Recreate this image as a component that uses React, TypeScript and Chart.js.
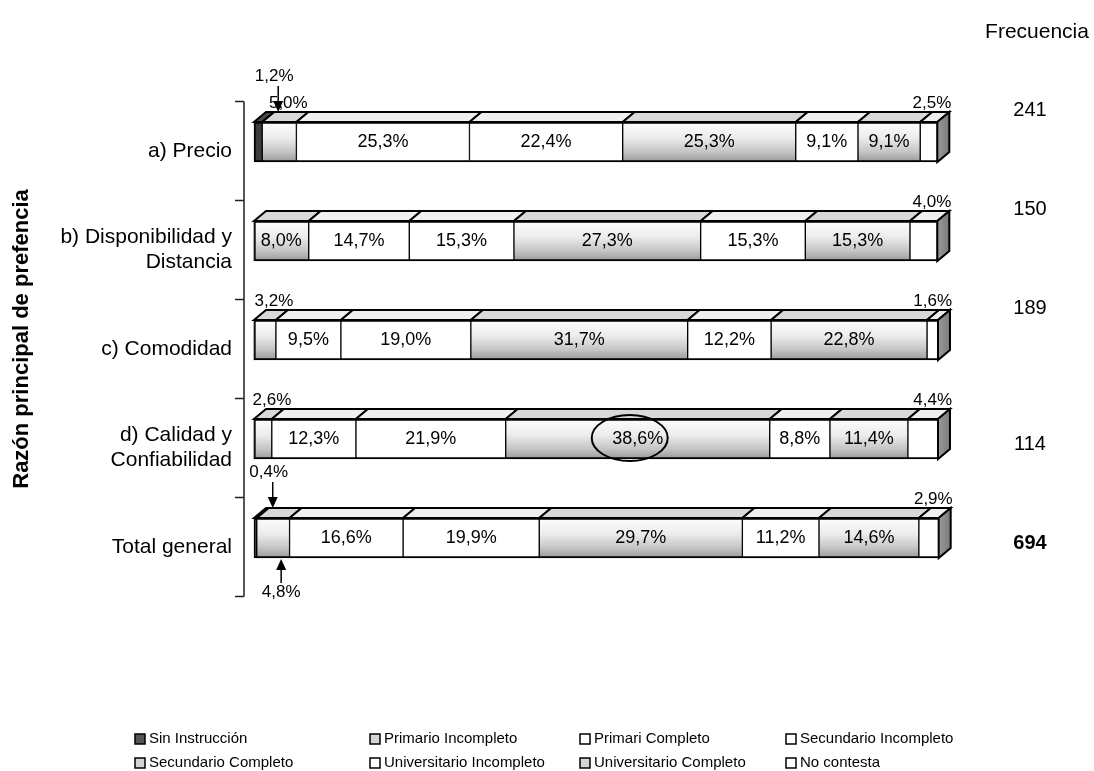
import { useEffect, useRef } from 'react';
import { Chart, registerables } from 'chart.js';

Chart.register(...registerables);

// Reasons for preference (rows) and education level of respondents (stack segments), in %
const categories: string[][] = [
  ['a) Precio'],
  ['b) Disponibilidad y', 'Distancia'],
  ['c) Comodidad'],
  ['d) Calidad y', 'Confiabilidad'],
  ['Total general'],
];

const seriesNames = [
  'Sin Instrucción',
  'Primario Incompleto',
  'Primari Completo',
  'Secundario Incompleto',
  'Secundario Completo',
  'Universitario Incompleto',
  'Universitario Completo',
  'No contesta',
];

const sinInstruccion = [1.2, 0, 0, 0, 0.4];
const primarioIncompleto = [5.0, 8.0, 3.2, 2.6, 4.8];
const primariCompleto = [25.3, 14.7, 9.5, 12.3, 16.6];
const secundarioIncompleto = [22.4, 15.3, 19.0, 21.9, 19.9];
const secundarioCompleto = [25.3, 27.3, 31.7, 38.6, 29.7];
const universitarioIncompleto = [9.1, 15.3, 12.2, 8.8, 11.2];
const universitarioCompleto = [9.1, 15.3, 22.8, 11.4, 14.6];
const noContesta = [2.5, 4.0, 1.6, 4.4, 2.9];

const frecuencia = [241, 150, 189, 114, 694];

const seriesValues = [
  sinInstruccion,
  primarioIncompleto,
  primariCompleto,
  secundarioIncompleto,
  secundarioCompleto,
  universitarioIncompleto,
  universitarioCompleto,
  noContesta,
];

// grey tone used for every education level
const seriesTone = ['dark', 'shaded', 'plain', 'plain', 'shaded', 'plain', 'shaded', 'plain'];
// vertical placement of the "Frecuencia" figures next to each bar
const frecuenciaAlign = ['top', 'top', 'top', 'middle', 'middle'];

const FONT = '"Liberation Sans", Arial, Helvetica, sans-serif';
const DX = 12; // depth of the boxes, horizontal
const DY = 10; // depth of the boxes, vertical
const INSIDE_MIN = 7.5; // smaller segments get their label outside the bar
const LABEL_SHIFT = 9; // category labels and bracket sit a little below the bar fronts

const pct = (v: number) => v.toFixed(1).replace('.', ',') + '%';

const topFill: Record<string, string> = { dark: '#4a4a4a', shaded: '#d8d8d8', plain: '#efefef' };

function frontFill(ctx: any, tone: string) {
  if (tone === 'dark') return '#3c3c3c';
  if (tone === 'plain') return '#ffffff';
  const chart = ctx.chart;
  const y = chart.scales?.y;
  if (!chart.chartArea || !y || ctx.dataIndex == null) return '#d0d0d0';
  const yc = y.getPixelForValue(ctx.dataIndex);
  const g = chart.ctx.createLinearGradient(0, yc - 20, 0, yc + 20);
  g.addColorStop(0, '#fdfdfd');
  g.addColorStop(0.4, '#ececec');
  g.addColorStop(0.75, '#c4c4c4');
  g.addColorStop(1, '#9a9a9a');
  return g;
}

function segmentBorder(ctx: any, i: number) {
  const j = ctx.dataIndex;
  if (j == null) return 2;
  const v = seriesValues[i][j];
  if (!v) return 0;
  let first = true;
  for (let k = 0; k < i; k++) if (seriesValues[k][j]) first = false;
  return { top: 2, bottom: 2, right: 1, left: first ? 2 : 1 };
}

function arrow(c: CanvasRenderingContext2D, x: number, yFrom: number, yTo: number) {
  const dir = Math.sign(yTo - yFrom);
  c.beginPath();
  c.moveTo(x, yFrom);
  c.lineTo(x, yTo - dir * 8);
  c.lineWidth = 1.5;
  c.strokeStyle = '#000';
  c.stroke();
  c.beginPath();
  c.moveTo(x, yTo);
  c.lineTo(x - 5, yTo - dir * 11);
  c.lineTo(x + 5, yTo - dir * 11);
  c.closePath();
  c.fillStyle = '#000';
  c.fill();
}

const boxPlugin = {
  id: 'box3d',
  afterDatasetsDraw(chart: any) {
    const c: CanvasRenderingContext2D = chart.ctx;
    const yScale = chart.scales.y;
    const area = chart.chartArea;
    const nCat = categories.length;
    const band = yScale.getPixelForValue(1) - yScale.getPixelForValue(0);
    c.save();
    c.lineJoin = 'miter';

    // top faces and the right-hand side face of each bar
    for (let j = 0; j < nCat; j++) {
      let last: any = null;
      for (let i = 0; i < seriesValues.length; i++) {
        const v = seriesValues[i][j];
        if (!v) continue;
        const el = chart.getDatasetMeta(i).data[j];
        const x0 = Math.min(el.base, el.x);
        const x1 = Math.max(el.base, el.x);
        const yt = el.y - el.height / 2;
        c.beginPath();
        c.moveTo(x0, yt);
        c.lineTo(x0 + DX, yt - DY);
        c.lineTo(x1 + DX, yt - DY);
        c.lineTo(x1, yt);
        c.closePath();
        c.fillStyle = topFill[seriesTone[i]];
        c.fill();
        c.lineWidth = 2;
        c.strokeStyle = '#000';
        c.stroke();
        last = { x1, yt, yb: el.y + el.height / 2 };
      }
      if (last) {
        const g = c.createLinearGradient(last.x1, 0, last.x1 + DX, 0);
        g.addColorStop(0, '#9a9a9a');
        g.addColorStop(1, '#7a7a7a');
        c.beginPath();
        c.moveTo(last.x1, last.yt);
        c.lineTo(last.x1 + DX, last.yt - DY);
        c.lineTo(last.x1 + DX, last.yb - DY);
        c.lineTo(last.x1, last.yb);
        c.closePath();
        c.fillStyle = g;
        c.fill();
        c.lineWidth = 2;
        c.stroke();
      }
    }

    // the largest single share among the reasons is circled
    let maxV = -1;
    let maxPos: any = null;
    for (let j = 0; j < nCat - 1; j++) {
      for (let i = 0; i < seriesValues.length; i++) {
        if (seriesValues[i][j] > maxV) {
          maxV = seriesValues[i][j];
          maxPos = { i, j };
        }
      }
    }

    // value labels
    c.fillStyle = '#000';
    c.textBaseline = 'middle';
    for (let j = 0; j < nCat; j++) {
      for (let i = 0; i < seriesValues.length; i++) {
        const v = seriesValues[i][j];
        if (!v) continue;
        const el = chart.getDatasetMeta(i).data[j];
        const x0 = Math.min(el.base, el.x);
        const x1 = Math.max(el.base, el.x);
        const yt = el.y - el.height / 2;
        const yb = el.y + el.height / 2;
        const xc = (x0 + x1) / 2;
        if (v >= INSIDE_MIN) {
          c.font = `18px ${FONT}`;
          c.textAlign = 'center';
          c.fillStyle = '#000';
          c.fillText(pct(v), xc, el.y);
          if (maxPos && maxPos.i === i && maxPos.j === j) {
            c.beginPath();
            c.ellipse(xc - 8, el.y - 1, 38, 23, 0, 0, Math.PI * 2);
            c.lineWidth = 2;
            c.strokeStyle = '#000';
            c.stroke();
          }
          continue;
        }
        c.font = `17px ${FONT}`;
        c.fillStyle = '#000';
        if (i === 0) {
          const ax = x1 + DX + 4;
          c.textAlign = 'center';
          c.fillText(pct(v), ax - 4, yt - DY - 36);
          arrow(c, ax, yt - DY - 26, yt - DY);
        } else if (i === seriesValues.length - 1) {
          c.textAlign = 'right';
          c.fillText(pct(v), x1 + DX + 2, yt - DY - 9);
        } else if (j === nCat - 1) {
          const ax = xc + 8;
          c.textAlign = 'center';
          c.fillText(pct(v), ax, yb + 34);
          arrow(c, ax, yb + 25, yb + 1);
        } else {
          c.textAlign = 'center';
          c.fillText(pct(v), xc + 9, yt - DY - 9);
        }
      }
    }

    // category axis: bracket with tick marks and labels
    const axisX = area.left - 10;
    const firstEdge = yScale.getPixelForValue(0) - band / 2 + LABEL_SHIFT;
    const lastEdge = yScale.getPixelForValue(nCat - 1) + band / 2 + LABEL_SHIFT;
    c.beginPath();
    c.moveTo(axisX, firstEdge);
    c.lineTo(axisX, lastEdge);
    for (let k = 0; k <= nCat; k++) {
      const ty = firstEdge + k * band;
      c.moveTo(axisX - 9, ty);
      c.lineTo(axisX, ty);
    }
    c.lineWidth = 1.5;
    c.strokeStyle = '#222';
    c.stroke();

    c.font = `21px ${FONT}`;
    c.textAlign = 'right';
    c.fillStyle = '#000';
    for (let j = 0; j < nCat; j++) {
      const lines = categories[j];
      const yc = yScale.getPixelForValue(j) + LABEL_SHIFT;
      const lh = 25;
      lines.forEach((t, k) => {
        c.fillText(t, axisX - 12, yc + (k - (lines.length - 1) / 2) * lh);
      });
    }

    // axis title
    c.save();
    c.translate(22, (firstEdge + lastEdge) / 2 - 10);
    c.rotate(-Math.PI / 2);
    c.font = `bold 22px ${FONT}`;
    c.textAlign = 'center';
    c.fillText('Razón principal de prefencia', 0, 0);
    c.restore();

    // Frecuencia column
    const fx = area.right + 92;
    c.font = `21px ${FONT}`;
    c.textAlign = 'center';
    c.fillText('Frecuencia', fx + 7, 32);
    for (let j = 0; j < nCat; j++) {
      const yc = yScale.getPixelForValue(j);
      const y = frecuenciaAlign[j] === 'top' ? yc - 32 : yc + 5;
      c.font = `${j === nCat - 1 ? 'bold ' : ''}20px ${FONT}`;
      c.fillText(String(frecuencia[j]), fx, y);
    }

    // legend, four columns by two rows
    const colX = [135, 370, 580, 786];
    const rowY = [739, 763];
    c.font = `15px ${FONT}`;
    c.textAlign = 'left';
    seriesNames.forEach((name, i) => {
      const x = colX[i % 4];
      const y = rowY[Math.floor(i / 4)];
      const tone = seriesTone[i];
      c.fillStyle = tone === 'dark' ? '#555' : tone === 'shaded' ? '#d4d4d4' : '#fff';
      c.fillRect(x, y - 5, 10, 10);
      c.lineWidth = 1.5;
      c.strokeStyle = '#000';
      c.strokeRect(x, y - 5, 10, 10);
      c.fillStyle = '#000';
      c.fillText(name, x + 14, y);
    });

    c.restore();
  },
};

export default function App() {
  const ref = useRef<HTMLCanvasElement>(null);

  useEffect(() => {
    if (!ref.current) return;
    const chart = new Chart(ref.current, {
      type: 'bar',
      data: {
        labels: categories.map((c) => c.join(' ')),
        datasets: seriesValues.map((vals, i) => ({
          label: seriesNames[i],
          data: vals,
          backgroundColor: (ctx: any) => frontFill(ctx, seriesTone[i]),
          borderColor: '#000',
          borderWidth: (ctx: any) => segmentBorder(ctx, i),
          borderSkipped: false,
          barThickness: 40,
          clip: false,
        })),
      },
      options: {
        indexAxis: 'y',
        responsive: false,
        animation: false,
        layout: { padding: { left: 254, right: 156, top: 92.5, bottom: 183.5 } },
        scales: {
          x: { stacked: true, min: 0, max: 100, display: false },
          y: { stacked: true, display: false },
        },
        plugins: { legend: { display: false }, tooltip: { enabled: false } },
      },
      plugins: [boxPlugin],
    } as any);
    return () => chart.destroy();
  }, []);

  return (
    <div style={{ position: 'fixed', left: 0, top: 0, width: 1094, height: 771, background: '#fff' }}>
      <canvas ref={ref} width={1094} height={771} style={{ display: 'block' }} />
    </div>
  );
}
